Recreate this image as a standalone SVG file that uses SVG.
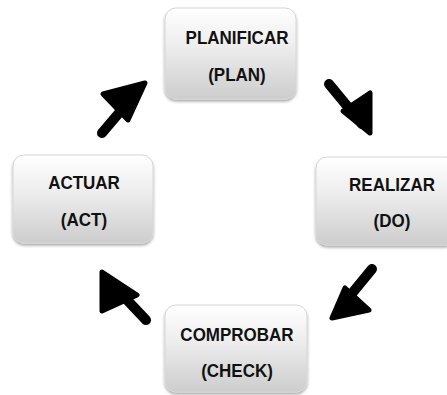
<svg xmlns="http://www.w3.org/2000/svg" width="447" height="395" viewBox="0 0 447 395">
<defs>
<linearGradient id="g" x1="0" y1="0" x2="0" y2="1">
<stop offset="0" stop-color="#ffffff"/>
<stop offset="0.4" stop-color="#eeeeee"/>
<stop offset="1" stop-color="#cdcdcd"/>
</linearGradient>
<filter id="sh" x="-10%" y="-10%" width="120%" height="125%">
<feGaussianBlur in="SourceAlpha" stdDeviation="1.5"/>
<feOffset dx="0" dy="1.5"/>
<feComponentTransfer><feFuncA type="linear" slope="0.35"/></feComponentTransfer>
<feMerge><feMergeNode/><feMergeNode in="SourceGraphic"/></feMerge>
</filter>
</defs>
<style>
.box{fill:url(#g);stroke:#d6d6d6;stroke-width:1;filter:url(#sh)}
.t{font-family:"Liberation Sans",Arial,sans-serif;font-weight:bold;font-size:17px;fill:#111;text-anchor:middle}
.sh{fill:none;stroke:#000;stroke-width:10;stroke-linecap:round}
.hd{fill:#000;stroke:#000;stroke-width:5;stroke-linejoin:round}
</style>
<rect width="447" height="395" fill="#fff"/>
<g id="plan">
<rect class="box" x="165" y="8" width="131" height="91" rx="11"/>
<text class="t" x="237" y="44" transform="translate(0,-4.4) scale(1,1.1)">PLANIFICAR</text>
<text class="t" x="237" y="81" transform="translate(0,-8.1) scale(1,1.1)">(PLAN)</text>
</g>
<g id="do">
<rect class="box" x="316" y="157" width="140" height="88" rx="11"/>
<text class="t" x="392" y="191" transform="translate(0,-19.1) scale(1,1.1)">REALIZAR</text>
<text class="t" x="392" y="227" transform="translate(0,-22.7) scale(1,1.1)">(DO)</text>
</g>
<g id="check">
<rect class="box" x="165" y="305" width="142" height="87" rx="11"/>
<text class="t" x="237" y="341" transform="translate(0,-34.1) scale(1,1.1)">COMPROBAR</text>
<text class="t" x="237" y="377" transform="translate(0,-37.7) scale(1,1.1)">(CHECK)</text>
</g>
<g id="act">
<rect class="box" x="13" y="155" width="140" height="88" rx="11"/>
<text class="t" x="84" y="189" transform="translate(0,-18.9) scale(1,1.1)">ACTUAR</text>
<text class="t" x="84" y="226" transform="translate(0,-22.6) scale(1,1.1)">(ACT)</text>
</g>
<g id="connectors">
<path class="sh" d="M102,133 L136,93"/>
<path class="hd" d="M103,94 L145,83 L128,120 Z"/>
<path class="sh" d="M329,84 L362,124"/>
<path class="hd" d="M370,93 L370,133 L343,111 Z"/>
<path class="sh" d="M372,269 L340,308"/>
<path class="hd" d="M345,288 L332,318 L369,310 Z"/>
<path class="sh" d="M146,320 L110,282"/>
<path class="hd" d="M102,311 L102,272 L137,295 Z"/>
</g>
</svg>
